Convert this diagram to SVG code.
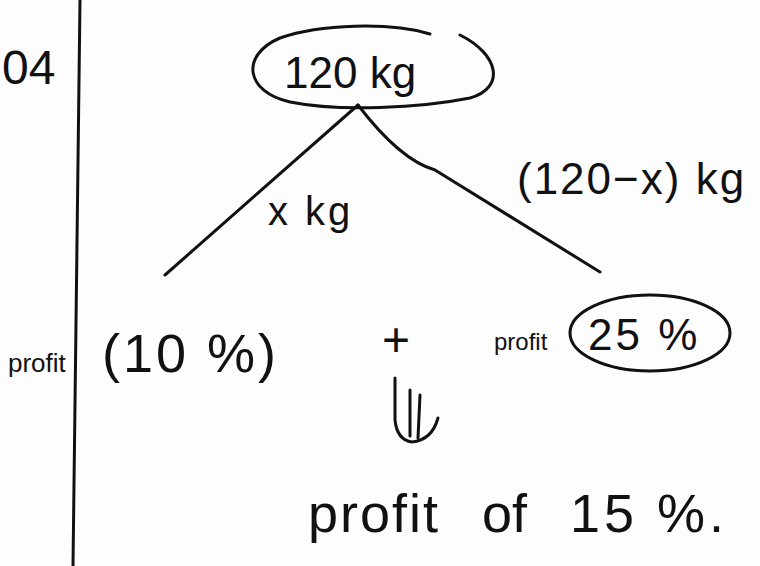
<svg xmlns="http://www.w3.org/2000/svg" width="760" height="566" viewBox="0 0 760 566">
<style>
.t{font-family:"Liberation Sans","DejaVu Sans",sans-serif;fill:#111}
.s{fill:none;stroke:#111;stroke-width:3;stroke-linecap:round;stroke-linejoin:round}
</style>
<rect width="760" height="566" fill="#fdfdfd"/>
<line class="s" x1="80" y1="0" x2="73" y2="566" stroke-width="2.5"/>
<text class="t" x="2" y="84" font-size="48">04</text>

<g id="connectors">
<path class="s" d="M358,105 L165,275"/>
<path class="s" d="M358,105 Q400,160 435,170 L600,272"/>
<path class="s" d="M395,378 L395,420 Q397,440 412,442 Q432,440 438,418"/>
<path class="s" d="M410,390 L410,436"/>
<path class="s" d="M420,395 L418,438"/>
</g>

<g id="node-total">
<path class="s" d="M430,34 C390,22 320,24 280,38 C240,55 245,92 290,102 C340,112 420,108 470,98 C505,88 500,55 460,35"/>
<text class="t" x="284" y="88" font-size="44">120 kg</text>
</g>

<g id="label-x">
<text class="t" x="268" y="225" font-size="40" letter-spacing="3">x kg</text>
</g>

<g id="label-rest">
<text class="t" x="517" y="194" font-size="44" letter-spacing="2">(120−x) kg</text>
</g>

<g id="node-10">
<text class="t" x="8" y="372" font-size="26">profit</text>
<text class="t" x="102" y="372" font-size="54" letter-spacing="3">(10 %)</text>
</g>

<g id="plus">
<text class="t" x="382" y="356" font-size="48">+</text>
</g>

<g id="node-25">
<text class="t" x="494" y="350" font-size="24">profit</text>
<ellipse class="s" cx="650" cy="333" rx="80" ry="38"/>
<text class="t" x="588" y="350" font-size="44" letter-spacing="3">25 %</text>
</g>

<g id="result">
<text class="t" x="308" y="532" font-size="54" letter-spacing="2">profit</text>
<text class="t" x="482" y="532" font-size="54">of</text>
<text class="t" x="570" y="532" font-size="54" letter-spacing="4">15 %.</text>
</g>
</svg>
